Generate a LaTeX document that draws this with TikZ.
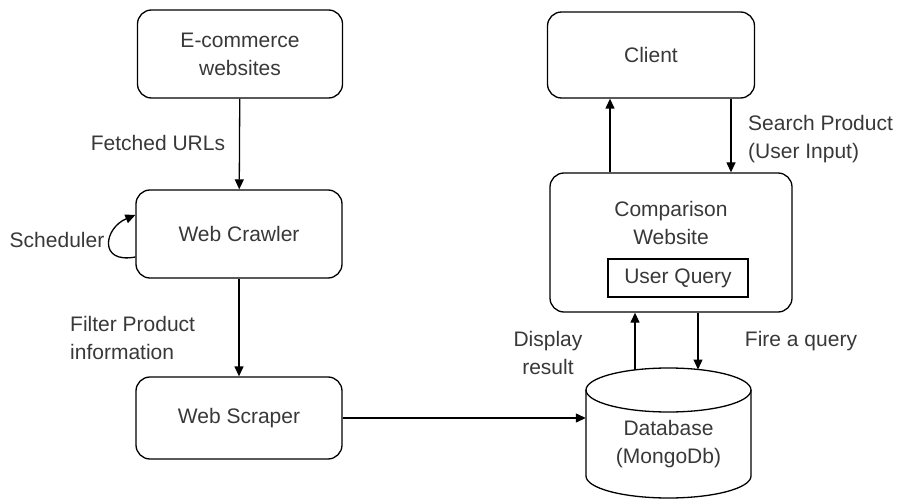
\documentclass[tikz,border=0pt]{standalone}
\usepackage{fontspec}
\setmainfont{Liberation Sans}
\usetikzlibrary{arrows.meta}
\definecolor{txt}{HTML}{383838}
\begin{document}
\begin{tikzpicture}[x=1pt,y=-1pt,
  box/.style={draw, rounded corners=14pt, line width=1.3pt, align=center,
    font=\fontsize{21}{28}\selectfont, text=txt, inner sep=0pt},
  lbl/.style={font=\fontsize{21}{28}\selectfont, text=txt, inner sep=0pt},
  arr/.style={-{Triangle[length=10pt,width=9pt]}, line width=1.3pt}]
\useasboundingbox (0,0) rectangle (905,500);
% boxes
\node[box, minimum width=205pt, minimum height=88pt] (ecom) at (240,54) {E-commerce\\websites};
\node[box, minimum width=206pt, minimum height=88pt] (crawl) at (239,234) {Web Crawler};
\node[box, minimum width=206pt, minimum height=82pt] (scrap) at (239,418) {Web Scraper};
\node[box, minimum width=207pt, minimum height=86pt] (client) at (651,55) {Client};
\node[box, minimum width=242pt, minimum height=139pt] (comp) at (671,242.5) {};
\node[lbl, align=center] (comptext) at (671,223) {Comparison\\Website};
\node[draw, line width=1.3pt, minimum width=140pt, minimum height=38pt, inner sep=0pt,
  font=\fontsize{21}{28}\selectfont, text=txt] (uq) at (678,278) {User Query};
% database cylinder
\node[minimum width=165pt, minimum height=130pt, inner sep=0pt] (db) at (668.5,433) {};
\draw[line width=1.3pt] (668.5,390) ellipse [x radius=82.5pt, y radius=22pt];
\draw[line width=1.3pt] (586,390) -- (586,476) arc[start angle=180, end angle=360, x radius=82.5pt, y radius=22pt] -- (751,390);
\node[lbl, align=center] (dbtext) at (668.5,444) {Database\\(MongoDb)};
\coordinate (dbl) at (635,370);
\coordinate (dbr) at (698,369.5);
% connectors
\draw[arr] (ecom) -- (crawl);
\draw[arr] (crawl) -- (scrap);
\draw[arr] (scrap.east) -- (db.west |- scrap.east);
\draw[arr] (comp.north -| 610,0) -- (client.south -| 610,0);
\draw[arr] (client.south -| 731,0) -- (comp.north -| 731,0);
\draw[arr] (dbl) -- (comp.south -| dbl);
\draw[arr] (comp.south -| dbr) -- (dbr);
\draw[arr] ([yshift=-23pt]crawl.west) .. controls (98,264) and (104,228) .. ([yshift=19pt]crawl.west);
% labels
\node[lbl] (l1) at (158,143) {Fetched URLs};
\node[lbl] (l2) at (57,240) {Scheduler};
\node[lbl, align=left, anchor=west] (l3) at (70,338) {Filter Product\\information};
\node[lbl, align=center] (l4) at (548,353) {Display\\result};
\node[lbl] (l5) at (801,341) {Fire a query};
\node[lbl, align=left, anchor=west] (l6) at (748,139) {Search Product\\(User Input)};
\end{tikzpicture}
\end{document}
